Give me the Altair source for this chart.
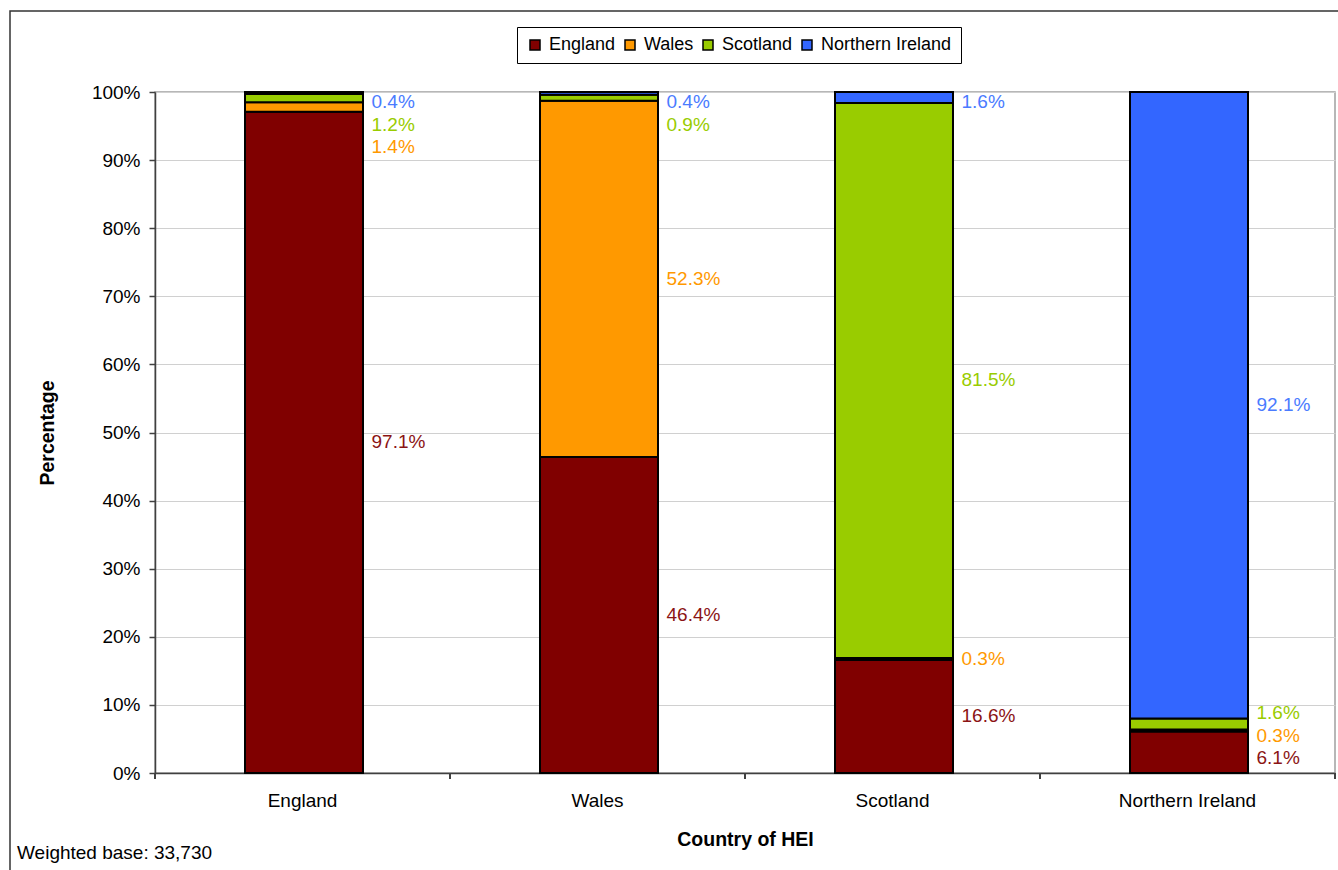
import altair as alt
import pandas as pd

# Country of the HEI (bars) and home country of the students (stacked series)
hei_countries = ["England", "Wales", "Scotland", "Northern Ireland"]
home_countries = ["England", "Wales", "Scotland", "Northern Ireland"]

# Percentage of each HEI country's students by home country
pct_england = [97.1, 46.4, 16.6, 6.1]
pct_wales = [1.4, 52.3, 0.3, 0.3]
pct_scotland = [1.2, 0.9, 81.5, 1.6]
pct_n_ireland = [0.4, 0.4, 1.6, 92.1]

bar_colors = ["#800000", "#FF9900", "#99CC00", "#3366FF"]
label_colors = ["#8B1414", "#FF9900", "#99CC00", "#4A7BFF"]

series = [pct_england, pct_wales, pct_scotland, pct_n_ireland]

W, H = 1180, 681
FONT = "Liberation Sans"
TEXT_SIZE = 19
TITLE_SIZE = 19.5
LABEL_GAP = 3.3      # minimum vertical spacing between value labels (in % units)
LABEL_MIN, LABEL_MAX = 1.5, 98.5


def spread_labels(centres):
    """Place labels near their segment centres, pushing overlapping ones apart."""
    idx = sorted(range(len(centres)), key=lambda k: centres[k])
    clusters = [[k] for k in idx]

    def positions(cl):
        mean = sum(centres[k] for k in cl) / len(cl)
        first = mean - (len(cl) - 1) / 2 * LABEL_GAP
        top = first + (len(cl) - 1) * LABEL_GAP
        if top > LABEL_MAX:
            first -= top - LABEL_MAX
        if first < LABEL_MIN:
            first = LABEL_MIN
        return [first + n * LABEL_GAP for n in range(len(cl))]

    merged = True
    while merged:
        merged = False
        for c in range(len(clusters) - 1):
            lo, hi = positions(clusters[c]), positions(clusters[c + 1])
            if hi[0] - lo[-1] < LABEL_GAP:
                clusters[c] = clusters[c] + clusters[c + 1]
                del clusters[c + 1]
                merged = True
                break
    out = [0.0] * len(centres)
    for cl in clusters:
        for k, p in zip(cl, positions(cl)):
            out[k] = p
    return out


rows = []
for i, hei in enumerate(hei_countries):
    base = 0.0
    seg = []
    for j, home in enumerate(home_countries):
        v = series[j][i]
        seg.append(dict(hei=hei, home=home, order=j, value=v,
                        start=base, end=base + v, mid=base + v / 2,
                        label=f"{v:.1f}%", txt_color=label_colors[j]))
        base += v
    ys = spread_labels([s["mid"] for s in seg])
    for s, y in zip(seg, ys):
        s["label_y"] = y
        rows.append(s)
df = pd.DataFrame(rows)

x_enc = alt.X(
    "hei:N",
    sort=hei_countries,
    scale=alt.Scale(paddingInner=0, paddingOuter=0),
    axis=alt.Axis(
        title="Country of HEI",
        labelAngle=0,
        ticks=False,
        tickSize=0,
        labelPadding=18,
        titleX=W / 2,
        titleY=66,
        titleBaseline="middle",
        grid=False,
    ),
)

bars = alt.Chart(df).mark_bar(
    width=alt.RelativeBandSize(0.4), stroke="black", strokeWidth=2, xOffset=1.5
).encode(
    x=x_enc,
    y=alt.Y(
        "start:Q",
        scale=alt.Scale(domain=[0, 100], nice=False, clamp=True),
        axis=alt.Axis(
            title="Percentage",
            values=list(range(0, 101, 10)),
            labelExpr="datum.value + '%'",
            tickSize=6,
            labelPadding=9,
            grid=True,
            titleX=-108,
            titleY=H / 2,
            titleAngle=270,
            titleBaseline="middle",
        ),
    ),
    y2="end:Q",
    color=alt.Color(
        "home:N",
        scale=alt.Scale(domain=home_countries, range=bar_colors),
        legend=alt.Legend(
            title=None,
            orient="none",
            legendX=362,
            legendY=-65,
            direction="horizontal",
            columns=4,
            strokeColor="black",
            fillColor="white",
            padding=9,
            symbolType="square",
            symbolSize=100,
            symbolStrokeColor="black",
            symbolStrokeWidth=1.5,
            labelFontSize=18,
            labelFont=FONT,
            labelColor="black",
            labelOffset=5,
            columnPadding=5,
        ),
    ),
    order=alt.Order("order:Q", sort="ascending"),
)

labels = alt.Chart(df).mark_text(
    align="left", baseline="middle", dx=69, fontSize=TEXT_SIZE, font=FONT
).encode(
    x=alt.X("hei:N", sort=hei_countries),
    y=alt.Y("label_y:Q"),
    text="label:N",
    color=alt.Color("txt_color:N", scale=None),
)

# tick marks between the category bands on the x axis
ticks_left = alt.Chart(df).mark_rule(color="#404040", strokeWidth=1.5).encode(
    x=alt.X("hei:N", sort=hei_countries, bandPosition=0),
    y=alt.value(H),
    y2=alt.value(H + 6),
)
ticks_right = alt.Chart(df).mark_rule(color="#404040", strokeWidth=1.5).encode(
    x=alt.X("hei:N", sort=hei_countries, bandPosition=1),
    y=alt.value(H),
    y2=alt.value(H + 6),
)

one = pd.DataFrame({"k": [0]})

frame = alt.Chart(one).mark_rect(
    fillOpacity=0, stroke="#333333", strokeWidth=1.5
).encode(
    x=alt.value(-145), x2=alt.value(W + 40),
    y=alt.value(-81), y2=alt.value(H + 120),
)

caption = alt.Chart(one).mark_text(
    align="left", baseline="middle", fontSize=TEXT_SIZE, font=FONT, color="black"
).encode(
    x=alt.value(-138), y=alt.value(761), text=alt.value("Weighted base: 33,730")
)

chart = alt.layer(frame, bars, labels, ticks_left, ticks_right, caption).properties(
    width=W,
    height=H,
    autosize=alt.AutoSizeParams(type="none"),
    padding={"left": 155, "top": 92, "right": 3, "bottom": 97},
    background="white",
).configure_view(
    stroke="#A0A0A0", strokeWidth=1.5
).configure_axis(
    labelFont=FONT,
    labelFontSize=TEXT_SIZE,
    labelColor="black",
    titleFont=FONT,
    titleFontSize=TITLE_SIZE,
    titleFontWeight="bold",
    titleColor="black",
    domainColor="#404040",
    domainWidth=1.5,
    tickColor="#404040",
    tickWidth=1.5,
    gridColor="#D0D0D0",
    gridWidth=1,
)

chart.save("out.html", embed_options={"renderer": "svg", "actions": False})
